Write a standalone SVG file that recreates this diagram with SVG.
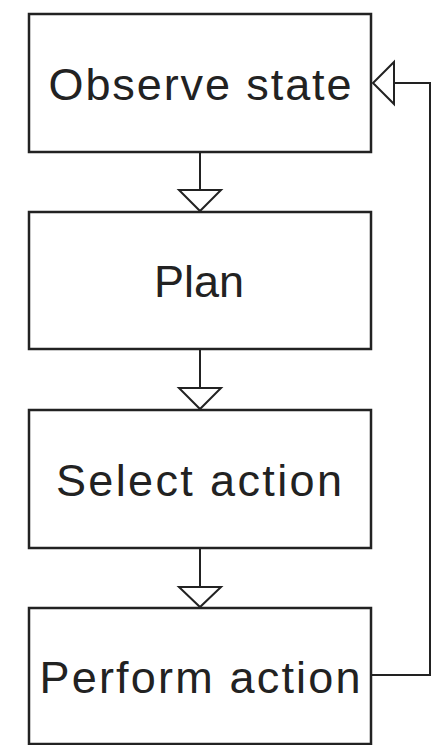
<svg xmlns="http://www.w3.org/2000/svg" width="432" height="745" viewBox="0 0 432 745">
<style>
.box{fill:#fff;stroke:#222;stroke-width:2.5}
.lbl{font-family:"Liberation Sans",Arial,sans-serif;font-size:45px;fill:#222;text-anchor:middle}
.edge{fill:none;stroke:#222;stroke-width:2}
.head{fill:#fff;stroke:#222;stroke-width:2;stroke-linejoin:miter}
</style>
<rect width="432" height="745" fill="#fff"/>
<g id="connectors">
<line class="edge" x1="200" y1="152" x2="200" y2="190"/>
<polygon class="head" points="179,190 221,190 200,211"/>
<line class="edge" x1="200" y1="349" x2="200" y2="388"/>
<polygon class="head" points="179,388 221,388 200,409"/>
<line class="edge" x1="200" y1="548" x2="200" y2="587"/>
<polygon class="head" points="179,587 221,587 200,607"/>
<polyline class="edge" points="371,675 430,675 430,83 394,83"/>
<polygon class="head" points="394,62 394,104 373,83"/>
</g>
<g id="observe">
<rect class="box" x="29" y="14" width="342" height="138"/>
<text class="lbl" x="200" y="100" textLength="303" lengthAdjust="spacing">Observe state</text>
</g>
<g id="plan">
<rect class="box" x="29" y="212" width="342" height="137"/>
<text class="lbl" x="199" y="297" textLength="90" lengthAdjust="spacing">Plan</text>
</g>
<g id="select">
<rect class="box" x="29" y="410" width="342" height="138"/>
<text class="lbl" x="199" y="496" textLength="286" lengthAdjust="spacing">Select action</text>
</g>
<g id="perform">
<rect class="box" x="29" y="608" width="342" height="136"/>
<text class="lbl" x="200" y="693" textLength="321" lengthAdjust="spacing">Perform action</text>
</g>
</svg>
